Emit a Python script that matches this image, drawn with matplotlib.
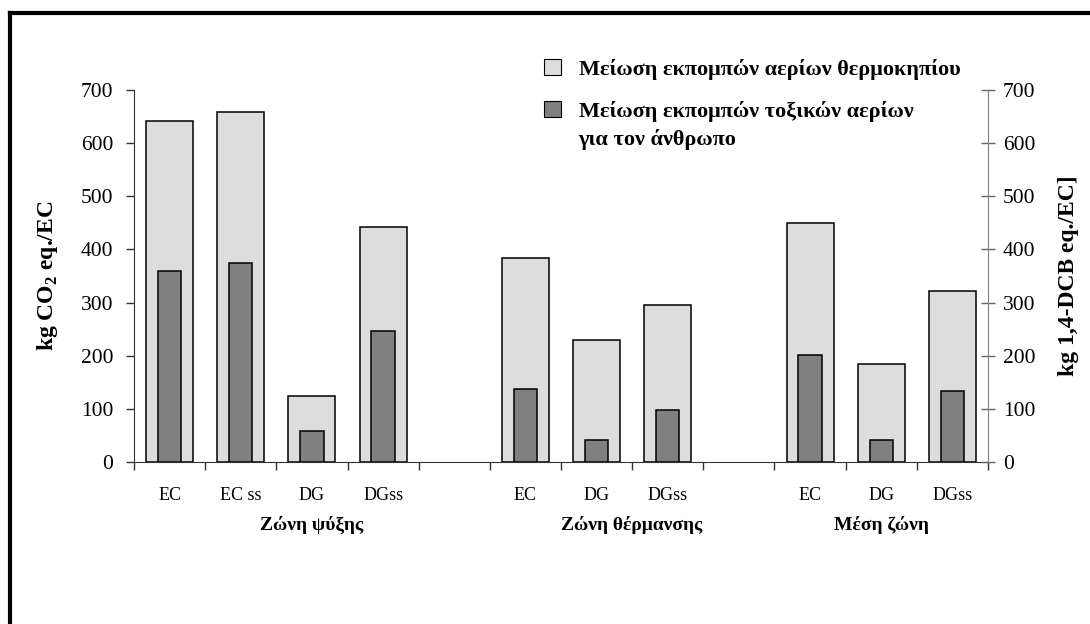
import numpy as np
import matplotlib
matplotlib.use("Agg")
import matplotlib.pyplot as plt
from matplotlib.patches import Patch
from matplotlib.lines import Line2D

plt.rcParams["font.family"] = ["Liberation Serif", "DejaVu Serif"]
plt.rcParams["mathtext.fontset"] = "custom"
plt.rcParams["mathtext.rm"] = "Liberation Serif"
plt.rcParams["mathtext.bf"] = "Liberation Serif:bold"

# Data: one slot per bar, empty string marks a gap between zones
categories = ["EC", "EC ss", "DG", "DGss", "",
              "EC", "DG", "DGss", "",
              "EC", "DG", "DGss"]
zones = ["Ζώνη ψύξης", "Ζώνη θέρμανσης", "Μέση ζώνη"]
zone_slots = [(0, 5), (5, 9), (9, 12)]  # slot ranges under each zone label

ghg = [641, 658, 124, 443, np.nan, 384, 230, 296, np.nan, 450, 185, 322]
toxic = [360, 374, 58, 246, np.nan, 137, 42, 98, np.nan, 201, 42, 134]

label_ghg = "Μείωση εκπομπών αερίων θερμοκηπίου"
label_tox = "Μείωση εκπομπών τοξικών αερίων"
label_tox2 = "για τον άνθρωπο"

W, H = 1090, 624
fig = plt.figure(figsize=(W / 100, H / 100), dpi=100)
ax = fig.add_axes([134 / W, 1 - 462 / H, (988 - 134) / W, 372 / H])

x = np.arange(len(categories)) + 0.5
ax.bar(x, ghg, width=0.66, color="#dddddd", edgecolor="black", linewidth=1.1, zorder=2)
ax.bar(x, toxic, width=0.33, color="#808080", edgecolor="black", linewidth=1.1, zorder=3)

ax.set_xlim(0, len(categories))
ax.set_ylim(0, 700)
ax.set_yticks(np.arange(0, 701, 100))
ax.tick_params(axis="y", labelsize=15.5, length=6, width=1, pad=9, color="#333333")

# tick marks at slot boundaries, labels at slot centres
ax.set_xticks(np.arange(0, len(categories) + 1))
ax.set_xticklabels([])
ax.tick_params(axis="x", which="major", length=6, width=1, color="#333333")
ax.set_xticks(x, minor=True)
ax.set_xticklabels(categories, minor=True, fontsize=13)
ax.tick_params(axis="x", which="minor", length=0, pad=18)

for side in ["top", "right"]:
    ax.spines[side].set_visible(False)
ax.spines["left"].set_color("#333333")
ax.spines["bottom"].set_color("#333333")

ax.set_ylabel(r"kg CO$_{\mathbf{2}}$ eq./EC", fontsize=17, fontweight="bold", labelpad=15)

# secondary axis on the right
ax2 = ax.twinx()
ax2.set_ylim(0, 700)
ax2.set_yticks(np.arange(0, 701, 100))
ax2.tick_params(axis="y", labelsize=15.5, length=9.5, width=1, direction="inout",
                pad=6, color="#666666")
for side in ["top", "left", "bottom"]:
    ax2.spines[side].set_visible(False)
ax2.spines["right"].set_color("#808080")
ax2.set_ylabel("kg 1,4-DCB eq./EC]", fontsize=17, fontweight="bold", labelpad=16)

# zone labels under the category labels
for name, (a, b) in zip(zones, zone_slots):
    ax.text((a + b) / 2, -0.17, name, transform=ax.get_xaxis_transform(),
            ha="center", va="center", fontsize=14, fontweight="bold")

handles = [Patch(facecolor="#dddddd", edgecolor="black", linewidth=0.8),
           Patch(facecolor="#808080", edgecolor="black", linewidth=0.8)]
leg = fig.legend(handles, [label_ghg, label_tox], loc="upper left",
                 bbox_to_anchor=(535 / W, 1 - 50 / H), frameon=False,
                 prop={"size": 16, "weight": "bold"}, handlelength=0.75,
                 handleheight=0.75, handletextpad=0.85, labelspacing=0.95,
                 borderaxespad=0)
# second line of the toxic-gas entry, under its first line
fig.text(578 / W, 1 - 139 / H, label_tox2, ha="left", va="center",
         fontsize=16, fontweight="bold")

# outer frame (top and left edges)
fig.add_artist(Line2D([10 / W, 10 / W], [0, 1 - 13 / H], color="black", lw=3,
                      solid_capstyle="projecting"))
fig.add_artist(Line2D([10 / W, 1], [1 - 13 / H, 1 - 13 / H], color="black", lw=3,
                      solid_capstyle="projecting"))

fig.savefig("out.png", dpi=100)
